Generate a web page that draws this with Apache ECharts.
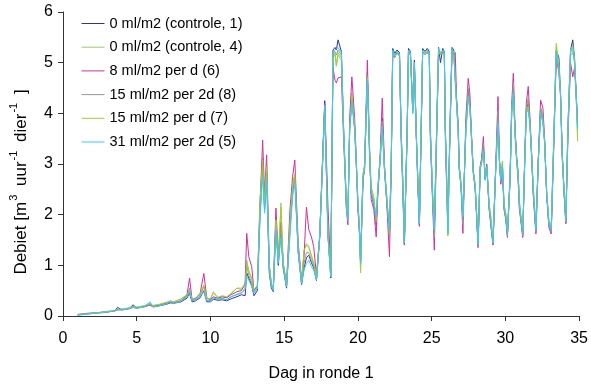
<!DOCTYPE html>
<html>
<head>
<meta charset="utf-8">
<script src="https://cdn.jsdelivr.net/npm/echarts@6/dist/echarts.min.js"></script>
<style>html,body{margin:0;padding:0;background:#fff;}#c{width:591px;height:392px;}</style>
</head>
<body>
<div id="c"></div>
<script>
const xTicks = [0, 5, 10, 15, 20, 25, 30, 35];
const yTicks = [0, 1, 2, 3, 4, 5, 6];
const seriesNames = ['0 ml/m2 (controle, 1)', '0 ml/m2 (controle, 4)', '8 ml/m2 per d (6)', '15 ml/m2 per 2d (8)', '15 ml/m2 per d (7)', '31 ml/m2 per 2d (5)'];
const days = [
1.0,1.5,2.0,2.5,3.0,3.5,3.7,4.0,4.5,4.75,
5.0,5.5,5.9,6.1,6.5,7.0,7.3,7.5,8.0,8.4,
8.58,8.75,9.0,9.3,9.55,9.75,10.0,10.2,10.5,10.8,
11.1,11.4,11.8,12.1,12.35,12.46,12.6,12.8,12.95,13.18,
13.36,13.54,13.67,13.81,13.99,14.13,14.26,14.44,14.6,14.78,
14.93,15.16,15.39,15.57,15.72,15.95,16.18,16.35,16.51,16.67,
16.85,17.0,17.19,17.41,17.75,17.97,18.16,18.31,18.45,18.54,
18.65,18.88,19.03,19.22,19.32,19.44,19.59,19.78,19.89,20.0,
20.11,20.18,20.34,20.45,20.64,20.79,20.9,21.08,21.24,21.35,
21.51,21.65,21.8,21.96,22.14,22.26,22.36,22.5,22.65,22.82,
22.93,23.04,23.15,23.34,23.43,23.56,23.72,23.83,23.95,24.05,
24.17,24.39,24.55,24.7,24.84,24.91,25.07,25.18,25.34,25.47,
25.6,25.75,25.86,25.93,26.01,26.1,26.24,26.38,26.5,26.6,
26.69,26.8,26.87,27.0,27.12,27.32,27.48,27.59,27.7,27.82,
27.95,28.04,28.15,28.29,28.38,28.51,28.63,28.74,28.9,29.01,
29.16,29.35,29.5,29.6,29.69,29.8,29.91,30.03,30.14,30.32,
30.43,30.54,30.66,30.77,30.86,30.95,31.04,31.18,31.31,31.42,
31.55,31.67,31.78,31.89,32.07,32.23,32.39,32.55,32.66,32.8,
32.95,33.11,33.29,33.45,33.63,33.74,33.85,33.97,34.1,34.24,
34.42,34.57,34.69,34.8,34.9
];
const ctrl1 = [
0.02,0.04,0.05,0.07,0.08,0.10,0.17,0.12,0.15,0.22,
0.16,0.18,0.22,0.18,0.20,0.23,0.26,0.25,0.28,0.35,
0.45,0.28,0.30,0.36,0.50,0.28,0.28,0.33,0.31,0.32,
0.30,0.34,0.38,0.42,0.40,0.85,0.75,0.60,0.40,0.50,
2.00,2.95,2.10,2.80,0.85,0.55,0.48,1.80,1.00,1.70,
0.95,0.55,1.70,2.45,2.75,1.25,0.62,0.95,1.15,1.20,
1.05,0.95,0.70,1.55,4.25,1.60,0.75,5.25,5.30,5.25,
5.45,5.22,3.70,2.20,1.95,3.70,4.30,3.70,3.00,2.20,
1.65,1.05,2.70,2.90,4.75,3.20,2.40,2.20,1.80,2.45,
3.10,3.90,2.90,2.25,1.60,3.00,5.28,5.18,5.25,5.20,
3.70,2.65,1.42,3.70,5.28,5.22,4.05,5.05,3.70,2.78,
1.80,5.28,5.22,5.28,5.22,3.70,2.30,1.65,3.70,5.30,
5.00,5.28,5.22,3.70,2.75,1.65,3.70,5.30,5.25,5.28,
4.25,3.70,2.90,2.55,1.90,3.70,4.45,4.20,3.55,2.85,
2.55,2.05,1.40,2.90,3.05,3.35,2.70,2.95,2.15,1.85,
1.42,2.95,3.95,3.05,2.65,2.95,2.15,1.95,1.60,2.70,
4.05,4.50,3.60,3.10,2.85,2.20,1.95,1.60,3.05,4.05,
4.20,3.80,3.15,2.45,1.68,3.05,4.10,3.85,3.45,2.42,
1.80,1.68,3.55,5.25,5.10,4.40,3.20,2.50,1.85,3.70,
5.25,5.45,5.10,4.40,3.75
];
const ctrl4 = [
0.02,0.04,0.06,0.07,0.09,0.11,0.13,0.13,0.16,0.18,
0.17,0.20,0.24,0.20,0.22,0.26,0.28,0.28,0.33,0.42,
0.51,0.33,0.35,0.42,0.61,0.34,0.33,0.48,0.36,0.38,
0.36,0.45,0.55,0.52,0.60,1.10,0.90,0.75,0.50,0.58,
2.30,3.12,2.20,2.96,1.00,0.62,0.53,1.95,1.10,2.23,
1.05,0.60,1.80,2.50,2.80,1.35,0.66,1.30,1.43,1.37,
1.17,1.05,0.75,1.58,4.10,1.70,0.80,5.10,5.15,4.93,
5.15,5.05,3.65,2.20,1.92,3.70,4.40,3.75,3.05,2.25,
1.60,0.85,2.80,2.95,4.80,3.30,2.50,2.30,1.85,2.55,
3.10,3.80,2.95,2.35,1.60,3.05,5.20,5.12,5.20,5.15,
3.65,2.70,1.45,3.65,5.22,5.18,4.05,5.00,3.65,2.85,
1.85,5.22,5.18,5.22,5.18,3.65,2.40,1.68,3.65,5.25,
5.18,5.22,5.18,3.65,2.85,1.60,3.65,5.25,5.20,5.22,
4.20,3.65,2.95,2.60,1.95,3.65,4.35,4.15,3.55,2.85,
2.60,2.10,1.45,2.95,3.05,3.30,2.75,2.95,2.20,1.95,
1.50,2.95,3.85,3.05,2.75,3.05,2.20,2.00,1.68,2.70,
4.05,4.45,3.60,3.05,2.85,2.25,2.00,1.68,3.05,4.05,
4.15,3.80,3.20,2.55,1.75,3.05,4.05,3.85,3.45,2.45,
1.88,1.75,3.55,5.30,4.90,4.35,3.20,2.55,1.92,3.65,
5.22,5.25,5.05,4.35,3.50
];
const dose8d = [
0.03,0.05,0.06,0.07,0.08,0.10,0.12,0.13,0.15,0.17,
0.16,0.19,0.22,0.19,0.21,0.25,0.27,0.26,0.30,0.40,
0.75,0.33,0.34,0.45,0.84,0.36,0.32,0.38,0.35,0.38,
0.36,0.42,0.48,0.50,0.65,1.63,1.17,0.97,0.50,0.60,
2.20,3.47,2.40,3.18,1.00,0.62,0.55,2.13,1.20,1.85,
1.05,0.62,2.09,2.75,3.08,1.45,0.70,1.20,2.15,1.70,
1.56,1.37,0.80,1.60,4.20,2.15,0.85,4.90,4.65,4.60,
4.70,4.72,3.50,2.10,1.80,3.90,4.72,3.90,3.10,2.10,
1.60,1.10,2.60,3.00,5.05,3.30,2.30,2.10,1.56,2.40,
3.20,4.30,3.00,2.20,1.17,2.90,5.15,5.10,5.20,5.15,
3.50,2.50,1.40,3.60,5.20,5.15,4.10,4.95,3.60,2.70,
1.77,5.20,5.15,5.20,5.15,3.50,2.20,1.30,3.50,5.20,
5.15,5.20,5.15,3.50,2.60,2.00,3.50,5.20,5.15,5.20,
4.30,3.80,3.00,2.50,1.63,3.90,4.69,4.40,3.60,2.90,
2.50,2.00,1.35,2.95,3.10,3.54,2.70,3.00,2.10,1.80,
1.40,3.00,4.33,3.10,2.60,2.90,2.10,1.90,1.55,2.80,
4.20,4.79,3.70,3.10,2.70,2.10,1.90,1.55,3.10,4.20,
4.53,3.90,3.20,2.40,1.62,3.10,4.26,4.10,3.50,2.40,
1.75,1.62,3.40,5.10,4.80,4.40,3.30,2.50,1.82,3.50,
5.00,4.72,4.90,4.40,3.80
];
const dose15_2d = [
0.02,0.03,0.05,0.06,0.08,0.10,0.12,0.12,0.14,0.17,
0.15,0.18,0.23,0.18,0.20,0.24,0.27,0.25,0.29,0.37,
0.55,0.30,0.32,0.40,0.58,0.31,0.30,0.35,0.33,0.34,
0.32,0.38,0.43,0.46,0.52,1.00,0.80,0.65,0.45,0.55,
2.10,2.95,2.15,2.85,0.92,0.58,0.50,1.85,1.08,1.75,
1.00,0.58,1.75,2.50,2.80,1.30,0.64,1.05,1.25,1.25,
1.10,1.00,0.72,1.56,4.12,1.58,0.78,5.18,5.22,5.15,
5.25,5.15,3.65,2.15,1.88,3.68,4.30,3.70,3.02,2.22,
1.68,1.00,2.72,2.90,4.75,3.20,2.45,2.25,1.85,2.50,
3.10,3.85,2.90,2.30,1.55,3.00,5.22,5.15,5.20,5.15,
3.65,2.65,1.44,3.65,5.22,5.18,4.05,5.00,3.65,2.78,
1.82,5.22,5.18,5.22,5.18,3.65,2.30,1.55,3.65,5.25,
5.18,5.22,5.18,3.65,2.78,1.75,3.65,5.25,5.20,5.22,
4.22,3.70,2.95,2.55,1.80,3.75,4.50,4.25,3.55,2.85,
2.55,2.05,1.38,2.92,3.05,3.40,2.70,2.95,2.12,1.85,
1.42,2.95,4.05,3.05,2.65,2.95,2.12,1.92,1.58,2.72,
4.10,4.60,3.62,3.05,2.75,2.15,1.92,1.58,3.05,4.10,
4.30,3.82,3.18,2.45,1.65,3.05,4.12,3.95,3.45,2.42,
1.80,1.66,3.50,5.18,4.85,4.38,3.22,2.50,1.85,3.62,
5.15,5.20,5.02,4.38,3.70
];
const dose15d = [
0.03,0.04,0.06,0.07,0.09,0.11,0.13,0.14,0.16,0.19,
0.18,0.20,0.25,0.21,0.23,0.27,0.30,0.28,0.34,0.42,
0.50,0.34,0.36,0.44,0.60,0.35,0.34,0.45,0.37,0.40,
0.38,0.44,0.55,0.55,0.62,1.05,0.88,0.72,0.52,0.60,
2.25,3.08,2.25,2.95,1.00,0.64,0.55,1.90,1.12,2.15,
1.05,0.62,1.85,2.55,2.80,1.35,0.68,1.30,1.40,1.35,
1.20,1.05,0.76,1.60,4.05,1.65,0.82,5.10,5.20,4.95,
5.20,5.10,3.60,2.25,1.95,3.65,4.35,3.75,3.05,2.30,
1.70,0.90,2.80,2.95,4.70,3.35,2.55,2.35,1.90,2.55,
3.15,3.75,2.95,2.35,1.62,3.05,5.18,5.12,5.18,5.12,
3.60,2.70,1.46,3.60,5.20,5.15,4.00,4.98,3.62,2.85,
1.86,5.20,5.15,5.20,5.15,3.60,2.42,1.72,3.60,5.22,
5.15,5.20,5.15,3.60,2.88,1.58,3.60,5.22,5.18,5.20,
4.18,3.62,2.95,2.62,1.98,3.60,4.30,4.10,3.55,2.85,
2.62,2.12,1.48,2.95,3.02,3.25,2.78,2.95,2.22,1.98,
1.52,2.92,3.80,3.05,2.78,3.05,2.22,2.02,1.70,2.72,
4.02,4.40,3.58,3.05,2.88,2.28,2.02,1.70,3.02,4.02,
4.12,3.78,3.22,2.58,1.78,3.02,4.02,3.82,3.45,2.48,
1.90,1.78,3.55,5.38,4.95,4.35,3.22,2.58,1.95,3.62,
5.25,5.35,5.08,4.35,3.45
];
const dose31_2d = [
0.02,0.04,0.05,0.06,0.08,0.10,0.14,0.12,0.15,0.18,
0.16,0.18,0.28,0.18,0.20,0.24,0.30,0.24,0.30,0.38,
0.48,0.30,0.32,0.38,0.48,0.30,0.30,0.36,0.33,0.35,
0.32,0.38,0.42,0.45,0.55,0.78,0.71,0.58,0.45,0.55,
1.90,2.78,2.03,2.70,0.90,0.60,0.51,1.70,1.04,1.56,
0.97,0.58,1.56,2.35,2.62,1.30,0.65,0.91,1.04,1.10,
0.97,0.91,0.71,1.56,4.16,1.56,0.78,5.20,5.25,5.22,
5.30,5.20,3.67,2.15,1.90,3.67,4.22,3.67,3.00,2.23,
1.70,1.04,2.75,2.88,4.66,3.14,2.42,2.23,1.96,2.49,
3.07,3.74,2.88,2.29,1.70,3.00,5.25,5.15,5.22,5.18,
3.67,2.68,1.44,3.67,5.25,5.20,4.00,5.00,3.67,2.80,
1.83,5.25,5.20,5.25,5.20,3.67,2.35,1.70,3.67,5.28,
5.20,5.25,5.20,3.67,2.81,1.63,3.67,5.28,5.22,5.25,
4.20,3.67,2.90,2.55,1.96,3.67,4.33,4.13,3.50,2.81,
2.55,2.09,1.41,2.90,3.00,3.27,2.68,2.94,2.15,1.90,
1.44,2.90,3.80,3.00,2.68,3.00,2.15,1.96,1.63,2.68,
4.00,4.40,3.54,3.00,2.81,2.22,1.96,1.63,3.00,4.00,
4.07,3.74,3.14,2.49,1.70,3.00,4.00,3.80,3.41,2.42,
1.83,1.70,3.54,5.22,4.87,4.33,3.14,2.49,1.87,3.67,
5.20,5.30,5.00,4.33,3.70
];
const colors = ['#333399', '#99cc66', '#cc3399', '#999999', '#a3cc33', '#33ccff'];
const allValues = [ctrl1, ctrl4, dose8d, dose15_2d, dose15d, dose31_2d];

const font = 'Liberation Sans, Arial, sans-serif';
const chart = echarts.init(document.getElementById('c'), null, {renderer: 'canvas'});
chart.setOption({
  animation: false,
  backgroundColor: '#fff',
  color: colors,
  grid: {left: 62, right: 11, top: 12, bottom: 76},
  legend: {
    orient: 'vertical', left: 81, top: 16, padding: 0,
    itemWidth: 23, itemHeight: 14, itemGap: 8.7,
    itemStyle: {opacity: 0},
    lineStyle: {width: 1},
    textStyle: {fontFamily: font, fontSize: 14.5, color: '#000'},
    data: seriesNames
  },
  xAxis: {
    type: 'value', min: xTicks[0], max: xTicks[xTicks.length - 1], interval: 5,
    name: 'Dag in ronde 1', nameLocation: 'middle', nameGap: 50,
    nameTextStyle: {fontFamily: font, fontSize: 16, color: '#000'},
    axisLine: {show: true, lineStyle: {color: '#333', width: 1}},
    axisTick: {show: true, inside: false, length: 5, lineStyle: {color: '#333'}},
    axisLabel: {fontFamily: font, fontSize: 16, color: '#000', margin: 15},
    splitLine: {show: false}
  },
  yAxis: {
    type: 'value', min: yTicks[0], max: yTicks[yTicks.length - 1], interval: 1,
    name: '{a|Debiet [m}{s|3}{a| uur}{s|-1}{a| dier}{s|-1}{a| ]}',
    nameLocation: 'middle', nameRotate: 90, nameGap: 33,
    nameTextStyle: {
      fontFamily: font, fontSize: 17, color: '#000',
      padding: [0, 36, 0, 0],
      rich: {
        a: {fontFamily: font, fontSize: 17, color: '#000', lineHeight: 22, verticalAlign: 'bottom'},
        s: {fontFamily: font, fontSize: 11, color: '#000', lineHeight: 22, verticalAlign: 'top', padding: [0, 4, 0, 1]}
      }
    },
    axisLine: {show: true, lineStyle: {color: '#333', width: 1}},
    axisTick: {show: true, inside: false, length: 5, lineStyle: {color: '#333'}},
    axisLabel: {fontFamily: font, fontSize: 16, color: '#000', margin: 10},
    splitLine: {show: false}
  },
  series: seriesNames.map((name, k) => ({
    name: name,
    type: 'line',
    symbol: 'none',
    showSymbol: false,
    lineStyle: {width: 1, color: colors[k]},
    itemStyle: {color: colors[k]},
    data: days.map((d, i) => [d, allValues[k][i]])
  }))
});
</script>
</body>
</html>
